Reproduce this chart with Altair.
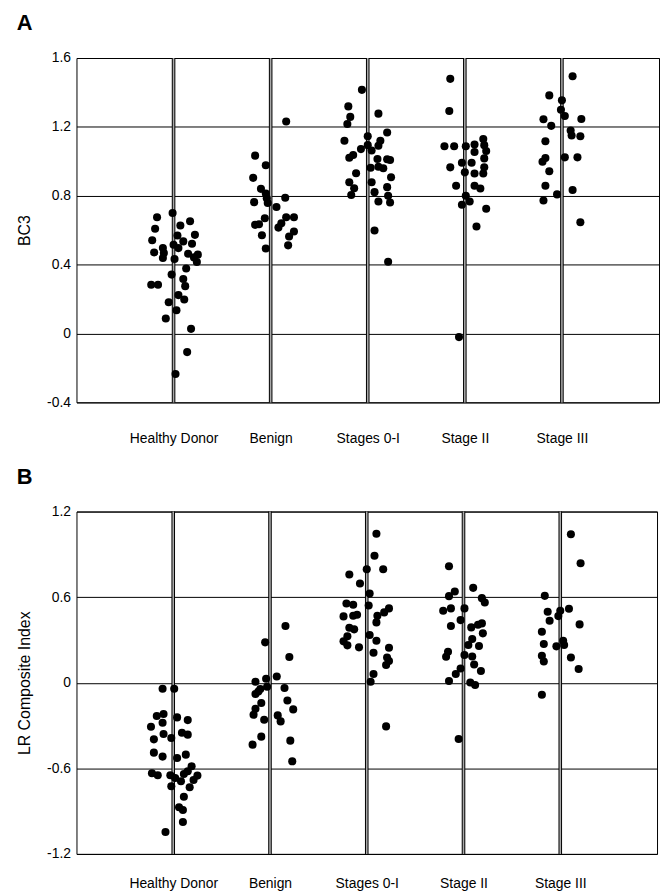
import json
import altair as alt
import pandas as pd

categories = ["Healthy Donor", "Benign", "Stages 0-I", "Stage II", "Stage III"]

# Panel A (BC3): horizontal jitter offsets (category units) and values
a_healthy_off = [-0.17, -0.01, 0.17, -0.19, 0.07, -0.22, 0.04, 0.22, -0.11, -0.20, -0.10, -0.11, 0.00, 0.05, 0.10,
                 0.19, 0.15, 0.21, 0.25, 0.24, 0.01, 0.13, -0.02, -0.23, -0.16, 0.10, 0.12, 0.05, 0.11, -0.05,
                 0.03, -0.08, 0.18, 0.14, 0.02]
a_healthy_val = [0.675, 0.70, 0.652, 0.608, 0.627, 0.542, 0.569, 0.573, 0.496, 0.471, 0.467, 0.438, 0.515, 0.496, 0.535,
                 0.521, 0.463, 0.442, 0.458, 0.415, 0.433, 0.377, 0.342, 0.283, 0.283, 0.317, 0.275, 0.223, 0.198, 0.181,
                 0.135, 0.087, 0.027, -0.108, -0.235]
a_benign_off = [0.16, -0.16, -0.05, -0.18, -0.10, -0.05, -0.04, -0.03, -0.17, 0.15, 0.06, -0.06, -0.16, -0.12, 0.16,
                0.24, 0.11, 0.08, 0.24, 0.19, -0.09, 0.18, -0.05]
a_benign_val = [1.231, 1.033, 0.977, 0.904, 0.840, 0.813, 0.785, 0.758, 0.763, 0.788, 0.735, 0.669, 0.631, 0.635, 0.675,
                0.675, 0.640, 0.615, 0.592, 0.563, 0.571, 0.512, 0.494]
a_stage01_off = [-0.06, -0.20, 0.11, -0.18, -0.21, 0.20, 0.00, -0.24, 0.13, -0.07, 0.00, 0.11, 0.04, -0.15, -0.19,
                 0.10, 0.20, 0.23, 0.03, 0.16, 0.11, -0.12, 0.24, 0.04, -0.19, -0.14, 0.20, 0.07, -0.17, 0.21,
                 0.11, 0.23, 0.07, 0.21]
a_stage01_val = [1.415, 1.319, 1.277, 1.258, 1.217, 1.167, 1.146, 1.119, 1.119, 1.071, 1.094, 1.090, 1.063, 1.037, 1.021,
                 1.013, 1.012, 1.008, 0.963, 0.960, 0.969, 0.931, 0.908, 0.879, 0.879, 0.844, 0.850, 0.821, 0.804, 0.800,
                 0.767, 0.761, 0.598, 0.417]
a_stage2_off = [-0.15, -0.16, -0.21, -0.11, 0.01, 0.10, 0.19, 0.20, 0.22, 0.10, 0.20, -0.03, 0.07, -0.15, 0.00,
                0.10, 0.20, 0.19, -0.09, 0.10, 0.16, 0.01, -0.03, 0.05, 0.22, 0.12, -0.06]
a_stage2_val = [1.479, 1.292, 1.088, 1.088, 1.088, 1.098, 1.129, 1.094, 1.060, 1.054, 1.017, 0.992, 0.992, 0.965, 0.936,
                0.929, 0.965, 0.929, 0.858, 0.858, 0.842, 0.800, 0.748, 0.767, 0.725, 0.621, -0.021]
a_stage3_off = [0.11, -0.13, 0.00, -0.01, 0.03, -0.19, -0.11, 0.20, 0.09, 0.10, 0.19, -0.17, 0.03, 0.16, -0.17,
                -0.20, -0.13, -0.17, 0.11, -0.05, -0.19, 0.19]
a_stage3_val = [1.494, 1.383, 1.354, 1.300, 1.263, 1.244, 1.206, 1.246, 1.179, 1.150, 1.146, 1.117, 1.023, 1.023, 1.019,
                0.998, 0.942, 0.858, 0.833, 0.808, 0.773, 0.646]

# Panel B (LR Composite Index)
b_healthy_off = [-0.11, 0.01, -0.17, -0.10, -0.11, 0.04, 0.15, -0.23, 0.09, 0.15, -0.10, -0.20, -0.02, -0.20, -0.11,
                 0.04, 0.13, 0.19, -0.22, -0.16, -0.03, 0.02, 0.08, 0.11, 0.15, 0.25, 0.21, 0.17, -0.02, 0.11,
                 0.06, 0.10, 0.10, -0.08]
b_healthy_val = [-0.042, -0.042, -0.233, -0.219, -0.280, -0.243, -0.262, -0.308, -0.350, -0.364, -0.360, -0.397, -0.388,
                 -0.490, -0.518, -0.528, -0.504, -0.586, -0.635, -0.649, -0.649, -0.668, -0.691, -0.640, -0.621, -0.651,
                 -0.682, -0.733, -0.726, -0.799, -0.873, -0.892, -0.976, -1.046]
b_benign_off = [0.16, -0.05, 0.20, 0.07, -0.04, -0.15, -0.10, -0.15, -0.12, -0.03, 0.15, 0.18, -0.09, 0.24, -0.15,
                -0.17, 0.08, 0.11, -0.06, -0.09, -0.18, 0.21, 0.23]
b_benign_val = [0.397, 0.283, 0.180, 0.044, 0.028, 0.007, -0.044, -0.079, -0.061, -0.028, -0.037, -0.124, -0.142, -0.187,
                -0.182, -0.224, -0.229, -0.271, -0.259, -0.378, -0.434, -0.406, -0.551]
b_stage01_off = [0.10, 0.08, 0.00, 0.17, -0.18, -0.07, 0.03, -0.21, -0.14, 0.02, 0.23, 0.18, 0.11, -0.24, -0.14,
                 -0.10, 0.10, -0.18, -0.13, 0.03, -0.20, 0.10, -0.24, -0.20, -0.08, 0.23, 0.07, 0.21, 0.23, 0.20,
                 0.07, 0.04, 0.20]
b_stage01_val = [1.044, 0.890, 0.796, 0.796, 0.759, 0.696, 0.626, 0.556, 0.546, 0.542, 0.521, 0.493, 0.469, 0.465, 0.469,
                 0.476, 0.423, 0.385, 0.374, 0.334, 0.325, 0.294, 0.290, 0.262, 0.248, 0.245, 0.210, 0.177, 0.152, 0.124,
                 0.061, 0.007, -0.306]
b_stage2_off = [-0.15, -0.09, -0.15, 0.10, 0.19, 0.22, -0.21, -0.13, 0.01, -0.03, -0.13, 0.08, 0.15, 0.19, 0.20,
                0.09, 0.05, 0.16, -0.16, -0.18, 0.01, 0.09, 0.11, -0.03, -0.08, 0.18, -0.15, 0.07, 0.12, -0.05]
b_stage2_val = [0.817, 0.640, 0.607, 0.665, 0.593, 0.563, 0.504, 0.521, 0.521, 0.439, 0.397, 0.388, 0.406, 0.416, 0.346,
                0.306, 0.264, 0.257, 0.217, 0.182, 0.194, 0.184, 0.128, 0.100, 0.061, 0.082, 0.012, 0.002, -0.016, -0.395]
b_stage3_off = [0.11, 0.21, -0.16, -0.13, 0.00, 0.09, -0.11, -0.02, 0.20, -0.19, -0.17, -0.04, 0.03, 0.04, -0.19,
                -0.17, 0.11, 0.19, -0.19]
b_stage3_val = [1.041, 0.838, 0.609, 0.497, 0.504, 0.518, 0.434, 0.467, 0.409, 0.357, 0.271, 0.255, 0.294, 0.264, 0.189,
                0.149, 0.177, 0.096, -0.084]

a_ticks = [-0.4, 0.0, 0.4, 0.8, 1.2, 1.6]
b_ticks = [-1.2, -0.6, 0.0, 0.6, 1.2]

FONT = "Liberation Sans"


def build(groups):
    rows = []
    for i, (offs, vals) in enumerate(groups):
        for o, v in zip(offs, vals):
            rows.append({"group": categories[i], "x": i + 1 + o, "value": v})
    return pd.DataFrame(rows)


df_a = build([(a_healthy_off, a_healthy_val), (a_benign_off, a_benign_val), (a_stage01_off, a_stage01_val),
              (a_stage2_off, a_stage2_val), (a_stage3_off, a_stage3_val)])
df_b = build([(b_healthy_off, b_healthy_val), (b_benign_off, b_benign_val), (b_stage01_off, b_stage01_val),
              (b_stage2_off, b_stage2_val), (b_stage3_off, b_stage3_val)])
df_lines = pd.DataFrame({"pos": [i + 1 for i in range(len(categories))]})

label_expr = json.dumps([""] + categories) + "[datum.value]"
y_label_expr = ("datum.value == 0 ? '0' : (datum.value < 0 ? '-' + format(-datum.value, '.1f') "
                ": format(datum.value, '.1f'))")


def panel(df, ticks, title_y, letter, w, h, label_pad):
    xscale = alt.Scale(domain=[0, 6], nice=False, zero=False)
    yscale = alt.Scale(domain=[ticks[0], ticks[-1]], nice=False, zero=False)
    xaxis = alt.Axis(values=[1, 2, 3, 4, 5], labelExpr=label_expr, grid=False, ticks=False, domain=False,
                     title=None, labelPadding=label_pad, labelFontSize=14, labelFont=FONT, labelColor="black")
    yaxis = alt.Axis(values=ticks, labelExpr=y_label_expr, grid=True, gridColor="black", gridWidth=1,
                     gridOpacity=1, ticks=False, domain=False, title=title_y, titleFont=FONT, titleFontSize=16,
                     titleFontWeight="normal", titleColor="black", titlePadding=14, labelPadding=6,
                     labelFontSize=14, labelFont=FONT, labelColor="black")
    base_pts = alt.Chart(df).mark_circle(size=66, color="black", opacity=1).encode(
        x=alt.X("x:Q", scale=xscale, axis=xaxis),
        y=alt.Y("value:Q", scale=yscale, axis=yaxis),
    )
    outer = alt.Chart(df_lines).mark_rule(color="black", strokeWidth=3.6).encode(
        x=alt.X("pos:Q", scale=xscale, axis=xaxis))
    inner = alt.Chart(df_lines).mark_rule(color="#a8a8a8", strokeWidth=1.6).encode(
        x=alt.X("pos:Q", scale=xscale, axis=xaxis))
    return alt.layer(outer, inner, base_pts).properties(
        width=w, height=h,
        title=alt.TitleParams(letter, anchor="start", frame="bounds", fontSize=22, fontWeight="bold",
                              font=FONT, color="black", offset=16),
    )


chart_a = panel(df_a, a_ticks, "BC3", "A", 587, 347, 29)
chart_b = panel(df_b, b_ticks, "LR Composite Index", "B", 585, 345, 23)

chart = alt.vconcat(chart_a, chart_b, spacing=19).configure(
    background="white",
    padding={"left": 8, "top": 0, "right": 0, "bottom": 0},
    view=alt.ViewConfig(stroke="black", strokeWidth=1),
)

chart.save("out.html", embed_options={"renderer": "svg", "actions": False})
